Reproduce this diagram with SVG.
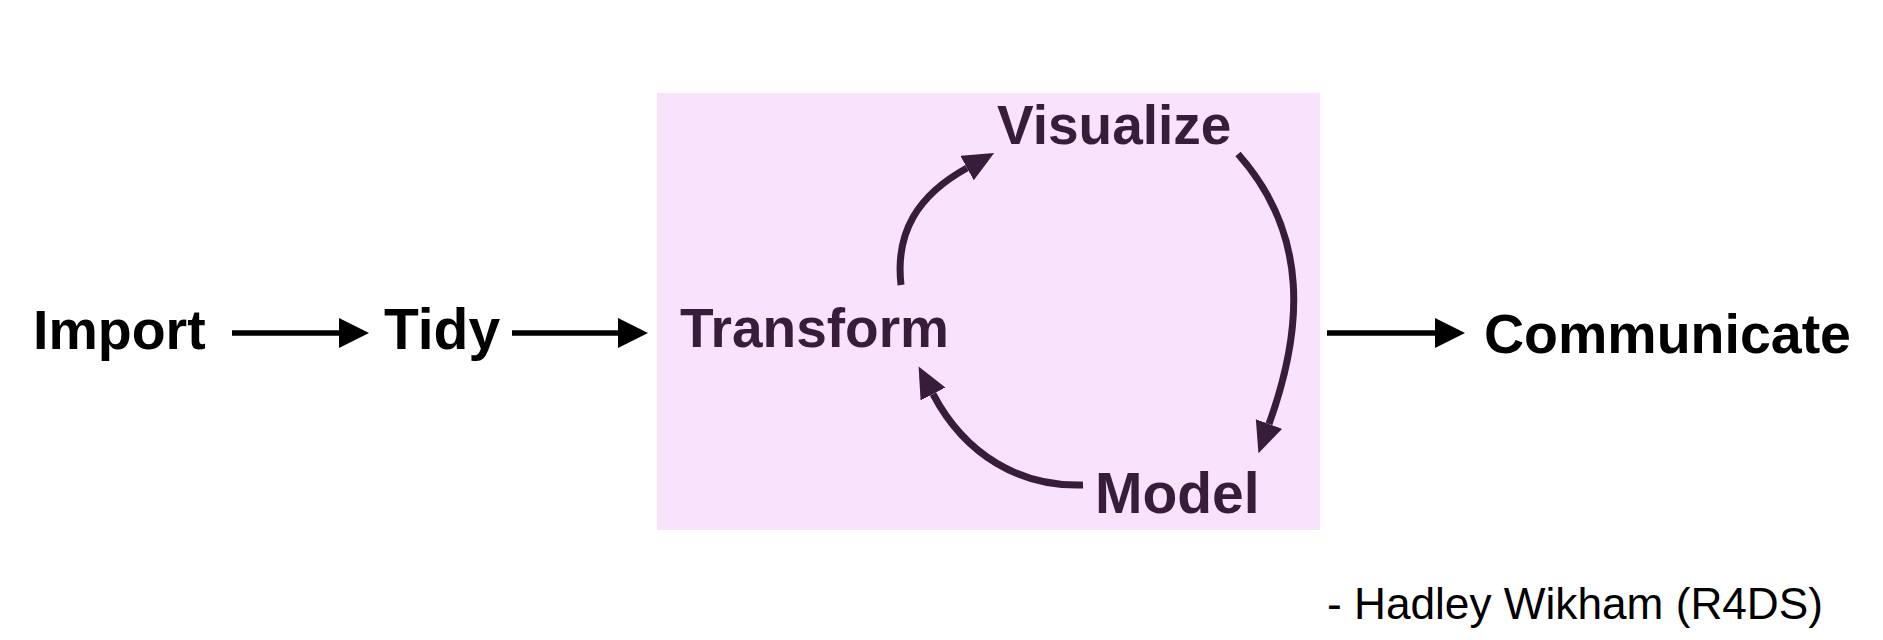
<svg xmlns="http://www.w3.org/2000/svg" width="1883" height="640" viewBox="0 0 1883 640">
  <style>
    .lbl { font-family: "Liberation Sans", Arial, sans-serif; font-weight: bold; }
    .outer { fill: #000000; }
    .inner { fill: #371d39; }
    .note { font-family: "Liberation Sans", Arial, sans-serif; font-size: 44.2px; fill: #000000; }
    .flow { fill: none; stroke: #000000; stroke-width: 5.5; }
    .cycle { fill: none; stroke: #371d39; stroke-width: 7; }
  </style>
  <defs>
    <marker id="head-black" markerUnits="userSpaceOnUse" markerWidth="32" markerHeight="32" refX="0" refY="15" orient="auto">
      <path d="M0,0 L30,15 L0,30 Z" fill="#000000"/>
    </marker>
    <marker id="head-purple" markerUnits="userSpaceOnUse" markerWidth="34" markerHeight="30" refX="0" refY="14" orient="auto">
      <path d="M0,0 L31,14 L0,28 Z" fill="#371d39"/>
    </marker>
  </defs>

  <rect width="1883" height="640" fill="#ffffff"/>

  <!-- shaded panel behind the iterative loop -->
  <rect id="loop-panel" x="657" y="93" width="663" height="437" fill="#f9e2fc"/>

  <g id="connectors">
    <path class="flow" d="M232,333 L339,333" marker-end="url(#head-black)"/>
    <path class="flow" d="M512,333 L618,333" marker-end="url(#head-black)"/>
    <path class="flow" d="M1327,333 L1435,333" marker-end="url(#head-black)"/>
    <!-- Transform to Visualize -->
    <path class="cycle" d="M901,285 C895,232 918,195 967,168" marker-end="url(#head-purple)"/>
    <!-- Visualize to Model -->
    <path class="cycle" d="M1238,154 C1310,235 1303,330 1269,424" marker-end="url(#head-purple)"/>
    <!-- Model to Transform -->
    <path class="cycle" d="M1083,485 C1020,487 965,455 933,394" marker-end="url(#head-purple)"/>
  </g>

  <g id="node-import"><text class="lbl outer" x="33" y="349" font-size="55.5">Import</text></g>
  <g id="node-tidy"><text class="lbl outer" x="384" y="349" font-size="57">Tidy</text></g>
  <g id="node-transform"><text class="lbl inner" x="680" y="347" font-size="55">Transform</text></g>
  <g id="node-visualize"><text class="lbl inner" x="997" y="144" font-size="55">Visualize</text></g>
  <g id="node-model"><text class="lbl inner" x="1095" y="513" font-size="57">Model</text></g>
  <g id="node-communicate"><text class="lbl outer" x="1484" y="353" font-size="55.5">Communicate</text></g>

  <g id="attribution"><text class="note" x="1327" y="619">- Hadley Wikham (R4DS)</text></g>
</svg>
